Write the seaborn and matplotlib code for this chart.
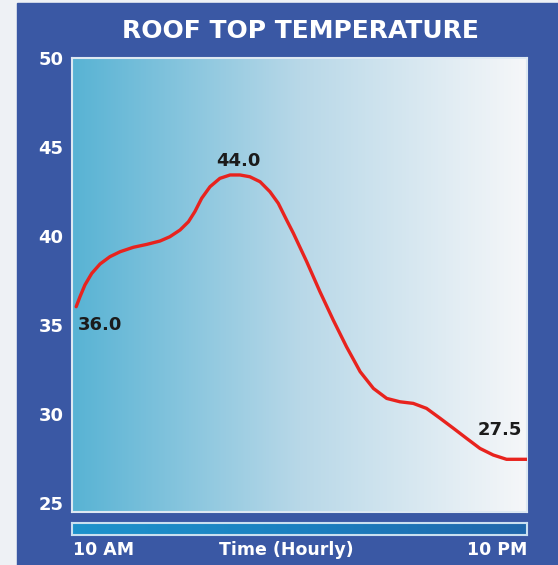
import numpy as np
import pandas as pd
import matplotlib.pyplot as plt
import seaborn as sns
from matplotlib.colors import LinearSegmentedColormap
from matplotlib.patches import Rectangle

# Values (hours after 10 AM, degrees)
hours = [0.11, 0.21, 0.34, 0.52, 0.74, 1.00, 1.27, 1.62, 1.97, 2.32, 2.58,
         2.85, 3.07, 3.24, 3.42, 3.64, 3.90, 4.17, 4.43, 4.69, 4.96, 5.22,
         5.44, 5.66, 5.84, 6.19, 6.54, 6.89, 7.24, 7.60, 7.95, 8.30, 8.65,
         9.00, 9.35, 9.71, 10.06, 10.41, 10.76, 11.11, 11.46, 12.0]
temps = [36.03, 36.59, 37.25, 37.90, 38.43, 38.84, 39.12, 39.37, 39.53, 39.72,
         39.96, 40.34, 40.80, 41.37, 42.12, 42.77, 43.24, 43.43, 43.43, 43.33,
         43.05, 42.49, 41.84, 40.90, 40.15, 38.56, 36.87, 35.28, 33.78, 32.38,
         31.44, 30.88, 30.69, 30.60, 30.32, 29.76, 29.20, 28.63, 28.07, 27.70,
         27.46, 27.46]
y_ticks = [25, 30, 35, 40, 45, 50]

point_labels = ["36.0", "44.0", "27.5"]
label_hours = [0.16, 4.38, 11.87]
label_temps = [35.0, 44.2, 29.1]
label_align = ["left", "center", "right"]

x_labels = ["10 AM", "Time (Hourly)", "10 PM"]

BLUE = "#3a58a4"
W, H = 558, 565

sns.set_style("white")
plt.rcParams['font.family'] = ['DejaVu Sans']

fig = plt.figure(figsize=(W / 100, H / 100), dpi=100)
fig.patch.set_facecolor("#eef1f5")
fig.patches.append(Rectangle((17 / W, 0), 1 - 17 / W, 1 - 3 / H,
                             transform=fig.transFigure, color=BLUE, zorder=-1))

# main plot with horizontal gradient background
ax = fig.add_axes([72 / W, 1 - 512 / H, 455 / W, 454 / H])
bg_cmap = LinearSegmentedColormap.from_list(
    "bg", [(0, "#58b3d4"), (0.5, "#b8d8e8"), (1, "#f6f7f9")])
grad = np.linspace(0, 1, 256).reshape(1, -1)
ax.imshow(grad, cmap=bg_cmap, extent=[0, 12, 24.5, 50], aspect='auto', zorder=0)

df = pd.DataFrame({"hour": hours, "temp": temps})
sns.lineplot(data=df, x="hour", y="temp", color="#e8231e", linewidth=2.4,
             solid_joinstyle='round', solid_capstyle='round', ax=ax, zorder=3)

for txt, hx, ty, al in zip(point_labels, label_hours, label_temps, label_align):
    ax.text(hx, ty, txt, ha=al, va='center', fontsize=13, fontweight='bold',
            color="#1b1b1b", zorder=4)

ax.set_xlim(0, 12)
ax.set_ylim(24.5, 50)
ax.set_xticks([])
ax.set_yticks(y_ticks)
ax.set_xlabel("")
ax.set_ylabel("")
ax.tick_params(axis='y', length=0, pad=6, labelcolor='white', labelsize=13)
for lab in ax.get_yticklabels():
    lab.set_fontweight('bold')
for sp in ax.spines.values():
    sp.set_color("#dde8f2")
    sp.set_linewidth(1.5)

# bottom time bar
bar = fig.add_axes([72 / W, 1 - 535 / H, 455 / W, 12 / H])
bar_cmap = LinearSegmentedColormap.from_list("bar", ["#1e93cc", "#1b80c0", "#2067ab"])
bar.imshow(grad, cmap=bar_cmap, aspect='auto', extent=[0, 1, 0, 1])
bar.set_xticks([])
bar.set_yticks([])
for sp in bar.spines.values():
    sp.set_color("#c9e0f0")
    sp.set_linewidth(1.5)

fig.text(73 / W, 1 - 550 / H, x_labels[0], ha='left', va='center',
         color='white', fontsize=12.5, fontweight='bold')
fig.text(286 / W, 1 - 550 / H, x_labels[1], ha='center', va='center',
         color='white', fontsize=12.5, fontweight='bold')
fig.text(527 / W, 1 - 550 / H, x_labels[2], ha='right', va='center',
         color='white', fontsize=12.5, fontweight='bold')

fig.text(300 / W, 1 - 31 / H, "ROOF TOP TEMPERATURE", ha='center', va='center',
         color='white', fontsize=18, fontweight='bold')

fig.savefig("out.png", dpi=100)
